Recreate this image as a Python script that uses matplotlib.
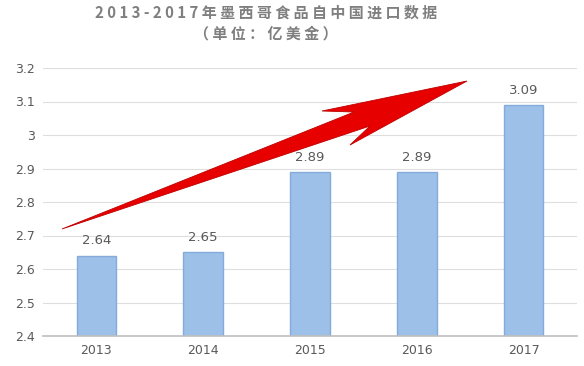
import matplotlib.pyplot as plt
import numpy as np
from matplotlib.patches import Polygon
from matplotlib.ticker import FuncFormatter

plt.rcParams['font.family'] = ['Noto Sans CJK SC', 'DejaVu Sans']

# data
years = ['2013', '2014', '2015', '2016', '2017']
imports = [2.64, 2.65, 2.89, 2.89, 3.09]
title_1 = '2013-2017年墨西哥食品自中国进口数据'
title_2 = '（单位：亿美金）'

fig = plt.figure(figsize=(5.84, 3.66), dpi=100)
ax = fig.add_axes([43 / 584, 1 - 336 / 366, 534 / 584, 268 / 366])

x = np.arange(len(years))
ax.bar(x, imports, width=0.37, bottom=0, color='#9cc0e8',
       edgecolor='#84abd9', linewidth=1.0, zorder=2)

# value labels
for xi, v in zip(x, imports):
    ax.annotate('%g' % v, (xi, v), xytext=(0, 6), textcoords='offset points',
                ha='center', va='bottom', fontsize=9.5, color='#595959',
                family='DejaVu Sans')

ax.set_xlim(-0.5, len(years) - 0.5)
ax.set_ylim(2.4, 3.2)
ax.set_yticks(np.arange(2.4, 3.21, 0.1))
ax.yaxis.set_major_formatter(FuncFormatter(lambda v, p: '%g' % round(v, 1)))
ax.set_xticks(x)
ax.set_xticklabels(years)
ax.tick_params(length=0, labelsize=9, labelcolor='#595959', pad=6)
for lab in ax.get_xticklabels() + ax.get_yticklabels():
    lab.set_family('DejaVu Sans')

ax.grid(axis='y', color='#dedede', linewidth=0.8, zorder=0)
ax.set_axisbelow(True)
for s in ['top', 'right', 'left']:
    ax.spines[s].set_visible(False)
ax.spines['bottom'].set_color('#bfbfbf')
ax.spines['bottom'].set_linewidth(1.2)

# red trend arrow (decoration, pixel positions converted to axes fraction)
def px(p):
    return ((p[0] - 43) / 534, (336 - p[1]) / 268)

arrow_px = [(62, 229), (354, 112), (322, 111), (467, 81),
            (350, 145), (370, 126)]
arrow = Polygon([px(p) for p in arrow_px], closed=True, transform=ax.transAxes,
                facecolor='#e60000', edgecolor='#c00000', linewidth=0.6,
                zorder=4, clip_on=False)
ax.add_patch(arrow)

# spaced-out title
fig.text(266 / 584, 1 - 13 / 366, ' '.join(title_1), ha='center', va='center',
         fontsize=10.8, fontweight='bold', color='#7f7f7f')
fig.text(266 / 584, 1 - 33 / 366, ' '.join(title_2), ha='center', va='center',
         fontsize=10.8, fontweight='bold', color='#7f7f7f')

fig.savefig('out.png', dpi=100)
